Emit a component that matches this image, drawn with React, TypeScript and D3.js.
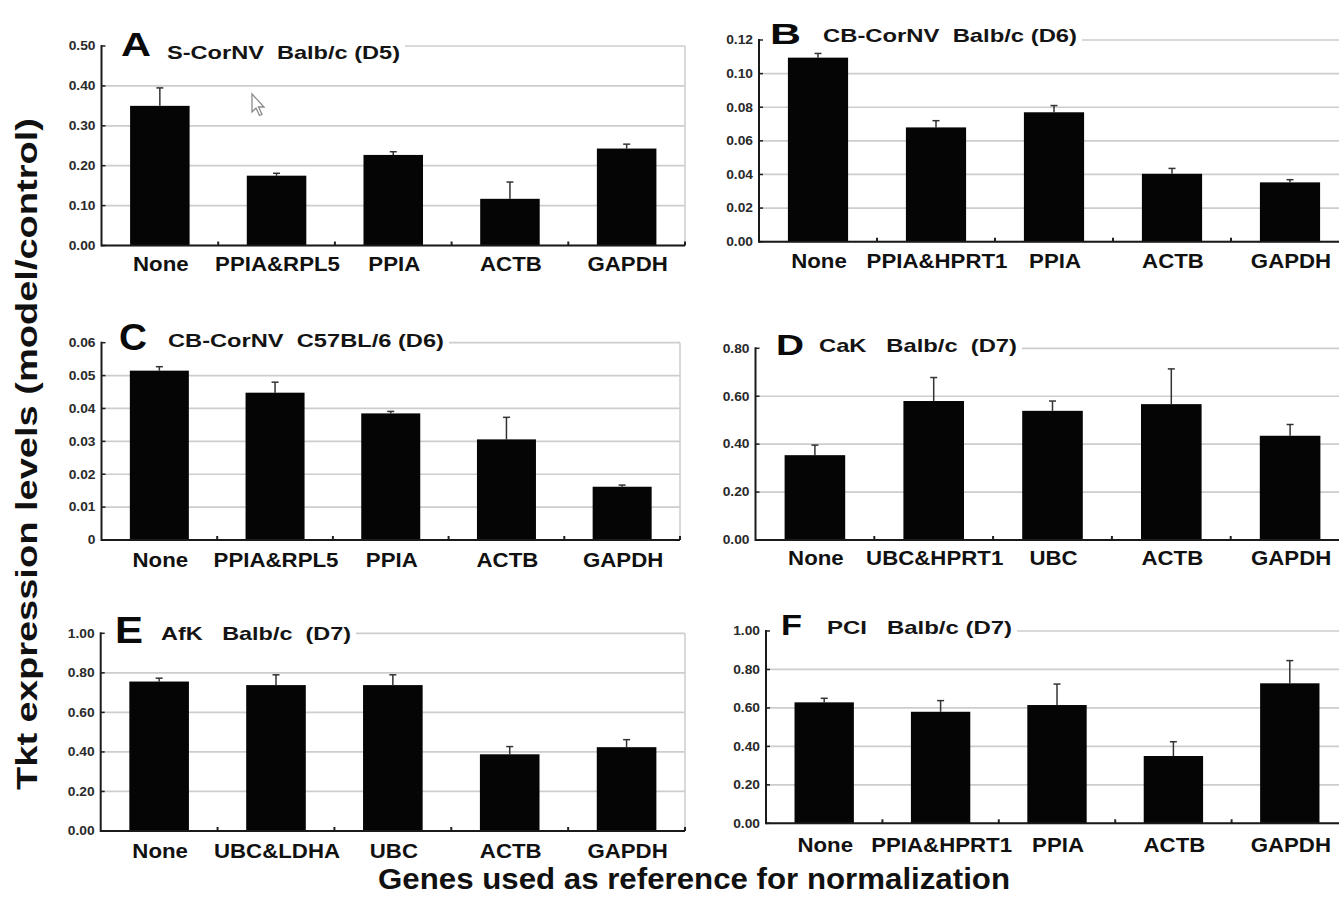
import React from 'react';
import * as d3 from 'd3';

const categoriesA = ['None', 'PPIA&RPL5', 'PPIA', 'ACTB', 'GAPDH'];
const valuesA = [0.35, 0.175, 0.227, 0.117, 0.243];
const errorsA = [0.045, 0.006, 0.008, 0.042, 0.011];

const categoriesB = ['None', 'PPIA&HPRT1', 'PPIA', 'ACTB', 'GAPDH'];
const valuesB = [0.1095, 0.068, 0.077, 0.0404, 0.0353];
const errorsB = [0.0025, 0.004, 0.004, 0.0032, 0.0016];

const categoriesC = ['None', 'PPIA&RPL5', 'PPIA', 'ACTB', 'GAPDH'];
const valuesC = [0.0515, 0.0448, 0.0385, 0.0306, 0.0162];
const errorsC = [0.0012, 0.0032, 0.0006, 0.0067, 0.0005];

const categoriesD = ['None', 'UBC&HPRT1', 'UBC', 'ACTB', 'GAPDH'];
const valuesD = [0.354, 0.58, 0.539, 0.567, 0.435];
const errorsD = [0.042, 0.098, 0.041, 0.147, 0.047];

const categoriesE = ['None', 'UBC&LDHA', 'UBC', 'ACTB', 'GAPDH'];
const valuesE = [0.756, 0.738, 0.738, 0.388, 0.424];
const errorsE = [0.017, 0.052, 0.052, 0.039, 0.038];

const categoriesF = ['None', 'PPIA&HPRT1', 'PPIA', 'ACTB', 'GAPDH'];
const valuesF = [0.629, 0.58, 0.615, 0.35, 0.728];
const errorsF = [0.021, 0.058, 0.109, 0.074, 0.118];

const yMaxes = [0.5, 0.12, 0.06, 0.8, 1.0, 1.0];
const yTickSteps = [0.1, 0.02, 0.01, 0.2, 0.2, 0.2];

const panelLetters = ['A', 'B', 'C', 'D', 'E', 'F'];
const panelTitles = [
  'S-CorNV  Balb/c (D5)',
  'CB-CorNV  Balb/c (D6)',
  'CB-CorNV  C57BL/6 (D6)',
  'CaK   Balb/c  (D7)',
  'AfK   Balb/c  (D7)',
  'PCI   Balb/c (D7)',
];

const yAxisTitle = 'Tkt expression levels (model/control)';
const xAxisTitle = 'Genes used as reference for normalization';

const W = 1339;
const H = 897;
const FONT = '"Liberation Sans", Arial, Helvetica, sans-serif';
const GRID = '#cdcdcd';

// where each panel sits
const layout = [
  { x0: 101.5, x1: 685, right: 685, yTop: 46, yBot: 245.5, lx: 121, ly: 56, ls: 34, lw: 30, tx: 167, ty: 59, tw: 233, labY: 270.5, border: true },
  { x0: 759, x1: 1349, right: W, yTop: 40, yBot: 241.7, lx: 770, ly: 43.5, ls: 29, lw: 31, tx: 823, ty: 41.5, tw: 254, labY: 268, border: false },
  { x0: 101.5, x1: 680, right: 680, yTop: 342.7, yBot: 540, lx: 119, ly: 350, ls: 37, lw: 28, tx: 168, ty: 346.5, tw: 276, labY: 566.5, border: true },
  { x0: 755.5, x1: 1349.5, right: W, yTop: 348.3, yBot: 540, lx: 776, ly: 355, ls: 30, lw: 28, tx: 819, ty: 351.5, tw: 198, labY: 565, border: false },
  { x0: 100.7, x1: 685, right: 685, yTop: 633.3, yBot: 831, lx: 115, ly: 643, ls: 37, lw: 28, tx: 161, ty: 640, tw: 190, labY: 858, border: true },
  { x0: 766, x1: 1348, right: W, yTop: 631, yBot: 823.3, lx: 781, ly: 635, ls: 30, lw: 21, tx: 827, ty: 634, tw: 185, labY: 851.5, border: false },
];

const panelData = [
  { cats: categoriesA, vals: valuesA, errs: errorsA },
  { cats: categoriesB, vals: valuesB, errs: errorsB },
  { cats: categoriesC, vals: valuesC, errs: errorsC },
  { cats: categoriesD, vals: valuesD, errs: errorsD },
  { cats: categoriesE, vals: valuesE, errs: errorsE },
  { cats: categoriesF, vals: valuesF, errs: errorsF },
];

function Panel({ i }: { i: number }) {
  const L = layout[i];
  const { cats, vals, errs } = panelData[i];
  const max = yMaxes[i];
  const step = yTickSteps[i];

  const x = d3.scaleBand().domain(cats).range([L.x0, L.x1]).padding(0);
  const y = d3.scaleLinear().domain([0, max]).range([L.yBot, L.yTop]);
  const ticks = d3.range(0, max + step / 2, step);
  const fmt = (v: number) => (i === 2 && v === 0 ? '0' : v.toFixed(2));
  const barW = x.bandwidth() * 0.51;
  const titleEnd = L.tx + L.tw + 5;

  return (
    <g>
      {ticks.map((t, k) => (
        <line
          key={'g' + k}
          x1={k === ticks.length - 1 ? titleEnd : L.x0}
          x2={L.right}
          y1={y(t)}
          y2={y(t)}
          stroke={GRID}
          strokeWidth={1.7}
        />
      ))}
      {L.border && <line x1={L.right} x2={L.right} y1={L.yTop} y2={L.yBot} stroke={GRID} strokeWidth={1.5} />}
      {ticks.map((t, k) => (
        <text
          key={'t' + k}
          transform={`translate(${L.x0 - 6},${y(t)}) scale(1.15,1)`}
          textAnchor="end"
          dy="0.36em"
          fontSize={12}
          fontWeight="bold"
          fill="#2a2a2a"
          fontFamily={FONT}
        >
          {fmt(t)}
        </text>
      ))}
      {cats.map((c, k) => {
        const cx = (x(c) as number) + x.bandwidth() / 2;
        const top = y(vals[k]);
        const et = y(vals[k] + errs[k]);
        return (
          <g key={'b' + k}>
            <line x1={cx} x2={cx} y1={top} y2={et} stroke="#333" strokeWidth={1.5} />
            <line x1={cx - 3.5} x2={cx + 3.5} y1={et} y2={et} stroke="#333" strokeWidth={1.5} />
            <rect x={cx - barW / 2} y={top} width={barW} height={L.yBot - top} fill="#050505" />
            <text
              transform={`translate(${cx + 1},${L.labY}) scale(1.06,1)`}
              textAnchor="middle"
              fontSize={21}
              fontWeight="bold"
              fill="#111"
              fontFamily={FONT}
            >
              {c}
            </text>
          </g>
        );
      })}
      {/* little ticks on the category boundaries */}
      {d3.range(1, cats.length + 1).map((k) => {
        const bx = L.x0 + k * x.step();
        return <line key={'c' + k} x1={bx} x2={bx} y1={L.yBot} y2={L.yBot - 4} stroke="#222" strokeWidth={2} />;
      })}
      {ticks.map((t, k) => (
        <line key={'yt' + k} x1={L.x0} x2={L.x0 + 4} y1={y(t)} y2={y(t)} stroke="#222" strokeWidth={1.5} />
      ))}
      <line x1={L.x0} x2={L.x0} y1={L.yTop - 1} y2={L.yBot + 1} stroke="#1a1a1a" strokeWidth={2} />
      <line x1={L.x0} x2={L.right} y1={L.yBot} y2={L.yBot} stroke="#1a1a1a" strokeWidth={2} />
      <text
        x={L.lx}
        y={L.ly}
        textLength={L.lw}
        lengthAdjust="spacingAndGlyphs"
        fontSize={L.ls}
        fontWeight="bold"
        fill="#0a0a0a"
        fontFamily={FONT}
      >
        {panelLetters[i]}
      </text>
      <text
        x={L.tx}
        y={L.ty}
        textLength={L.tw}
        lengthAdjust="spacingAndGlyphs"
        fontSize={19}
        fontWeight="bold"
        fill="#141414"
        fontFamily={FONT}
        style={{ whiteSpace: 'pre' }}
      >
        {panelTitles[i]}
      </text>
    </g>
  );
}

export default function App() {
  return (
    <svg
      width={W}
      height={H}
      viewBox={`0 0 ${W} ${H}`}
      style={{ position: 'absolute', left: 0, top: 0, display: 'block', background: '#fff' }}
    >
      <rect width={W} height={H} fill="#fff" />
      {panelData.map((_, i) => (
        <Panel key={i} i={i} />
      ))}
      {/* the stray mouse pointer in panel A */}
      <path
        d="M252,94 L252,112 L256,108 L259.5,115.5 L262,114.5 L258.5,107 L264,107 Z"
        fill="#fff"
        stroke="#8a8a8a"
        strokeWidth={1.3}
      />
      <text
        transform="translate(37,790) rotate(-90)"
        x={0}
        y={0}
        textLength={672}
        lengthAdjust="spacingAndGlyphs"
        fontSize={29}
        fontWeight="bold"
        fill="#111"
        fontFamily={FONT}
      >
        {yAxisTitle}
      </text>
      <text
        x={378}
        y={889}
        textLength={632}
        lengthAdjust="spacingAndGlyphs"
        fontSize={29}
        fontWeight="bold"
        fill="#111"
        fontFamily={FONT}
      >
        {xAxisTitle}
      </text>
    </svg>
  );
}
